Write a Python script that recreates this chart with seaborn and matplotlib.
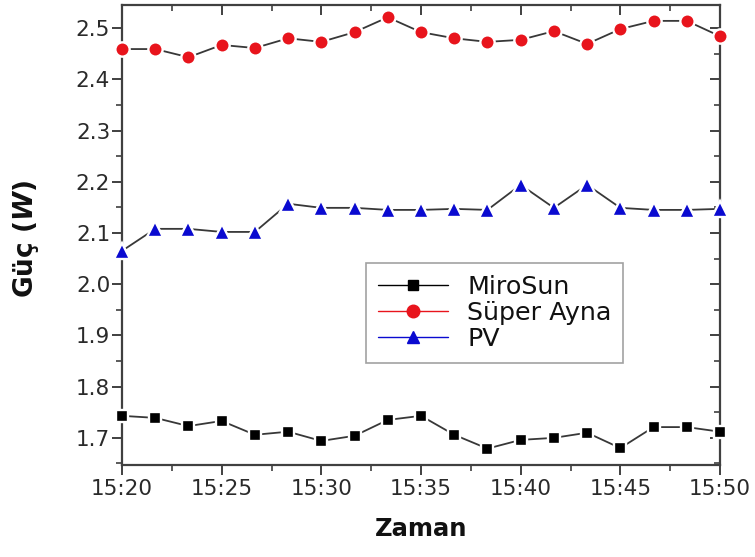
import matplotlib
matplotlib.use("Agg")
import matplotlib.pyplot as plt
from matplotlib.lines import Line2D
from matplotlib.ticker import FixedLocator, MultipleLocator, FuncFormatter
import seaborn as sns
import pandas as pd

# Measurement times and power readings (W)
zaman = ["15:20:00", "15:21:40", "15:23:20", "15:25:00", "15:26:40", "15:28:20",
         "15:30:00", "15:31:40", "15:33:20", "15:35:00", "15:36:40", "15:38:20",
         "15:40:00", "15:41:40", "15:43:20", "15:45:00", "15:46:40", "15:48:20",
         "15:50:00"]
mirosun = [1.743, 1.739, 1.723, 1.733, 1.706, 1.712, 1.694, 1.704, 1.735, 1.743,
           1.706, 1.679, 1.696, 1.700, 1.710, 1.680, 1.721, 1.721, 1.712]
super_ayna = [2.459, 2.459, 2.443, 2.467, 2.461, 2.480, 2.473, 2.492, 2.521, 2.492,
              2.480, 2.473, 2.477, 2.494, 2.469, 2.498, 2.514, 2.514, 2.484]
pv = [2.065, 2.108, 2.108, 2.102, 2.102, 2.157, 2.149, 2.149, 2.145, 2.145,
      2.147, 2.145, 2.194, 2.149, 2.194, 2.149, 2.145, 2.145, 2.147]

seriler = ["MiroSun", "Süper Ayna", "PV"]
renkler = ["#000000", "#e8141c", "#0a0ad0"]
isaretler = ["s", "o", "^"]
boyutlar = [8.3, 10.3, 11.0]
xtick_etiketleri = ["15:20", "15:25", "15:30", "15:35", "15:40", "15:45", "15:50"]

t = pd.to_datetime(zaman, format="%H:%M:%S")
dk = (t - t[0]).total_seconds() / 60.0
df = pd.DataFrame({"dk": list(dk) * 3,
                   "guc": mirosun + super_ayna + pv,
                   "seri": [s for s in seriler for _ in zaman]})

sns.set_style("white")
plt.rcParams["mathtext.fontset"] = "custom"
plt.rcParams["mathtext.it"] = "DejaVu Sans:italic:bold"

fig = plt.figure(figsize=(7.55, 5.57), dpi=100)
ax = fig.add_axes([122 / 755, 1 - 465 / 557, 598 / 755, 460 / 557])

line_col = "#383838"
for s, c, m, ms in zip(seriler, renkler, isaretler, boyutlar):
    sub = df[df["seri"] == s]
    sns.lineplot(data=sub, x="dk", y="guc", ax=ax, color=line_col, lw=1.3,
                 marker=m, markersize=ms, markerfacecolor=c,
                 markeredgecolor="white", markeredgewidth=1.7,
                 clip_on=False, zorder=3, legend=False)

ax.set_xlim(0, 30)
ax.set_ylim(1.647, 2.545)

spine_col = "#404040"
for sp in ax.spines.values():
    sp.set_visible(True)
    sp.set_color(spine_col)
    sp.set_linewidth(1.6)

ax.xaxis.set_major_locator(FixedLocator([0, 5, 10, 15, 20, 25, 30]))
ax.xaxis.set_major_formatter(FuncFormatter(lambda v, p: xtick_etiketleri[int(round(v / 5))]))
ax.xaxis.set_minor_locator(MultipleLocator(2.5))
ax.yaxis.set_major_locator(MultipleLocator(0.1))
ax.yaxis.set_minor_locator(MultipleLocator(0.05))
ax.yaxis.set_major_formatter(FuncFormatter(lambda v, p: f"{v:.1f}"))

ax.tick_params(axis="both", which="major", direction="out", length=7, width=1.4,
               color=spine_col, labelcolor="#2a2a2a", labelsize=15.5)
ax.tick_params(axis="x", which="major", pad=3)
ax.tick_params(axis="y", which="major", pad=1.5)
ax.tick_params(axis="both", which="minor", direction="out", length=4, width=1.2,
               color=spine_col)
ax.tick_params(bottom=True, left=True, which="both")
for lab in ax.get_xticklabels() + ax.get_yticklabels():
    lab.set_fontfamily("DejaVu Sans")

# inward ticks on the top and right edges
top = ax.secondary_xaxis("top")
top.xaxis.set_major_locator(FixedLocator([0, 5, 10, 15, 20, 25, 30]))
top.xaxis.set_minor_locator(MultipleLocator(2.5))
top.tick_params(which="major", direction="in", length=7, width=1.4, color=spine_col, labeltop=False)
top.tick_params(which="minor", direction="in", length=4, width=1.2, color=spine_col)
top.spines["top"].set_visible(False)
right = ax.secondary_yaxis("right")
right.yaxis.set_major_locator(MultipleLocator(0.1))
right.yaxis.set_minor_locator(MultipleLocator(0.05))
right.tick_params(which="major", direction="in", length=7, width=1.4, color=spine_col, labelright=False)
right.tick_params(which="minor", direction="in", length=4, width=1.2, color=spine_col)
right.spines["right"].set_visible(False)

ax.set_xlabel("Zaman", fontfamily="DejaVu Sans", fontweight="bold", fontsize=17.5,
              labelpad=13, color="#111111")
ax.set_ylabel("Güç ($W$)", fontfamily="DejaVu Sans", fontweight="bold", fontsize=19,
              color="#111111")
ax.yaxis.set_label_coords(-0.136, 0.491)

handles = [Line2D([], [], color=c, lw=1.0, marker=m, markersize=ms * 0.95,
                  markerfacecolor=c, markeredgecolor=c)
           for c, m, ms in zip(renkler, isaretler, [7.5, 9.5, 9.5])]
leg = ax.legend(handles, seriler, loc="upper left", bbox_to_anchor=(0.408, 0.439),
                borderaxespad=0, frameon=True, fancybox=False, edgecolor="#8a8a8a",
                prop={"family": "DejaVu Sans", "size": 18.3}, handlelength=2.75,
                handletextpad=0.78, labelspacing=0.09, borderpad=0.46)
leg.get_frame().set_linewidth(1.2)
for txt in leg.get_texts():
    txt.set_color("#111111")

fig.savefig("out.png", dpi=100, facecolor="white")
